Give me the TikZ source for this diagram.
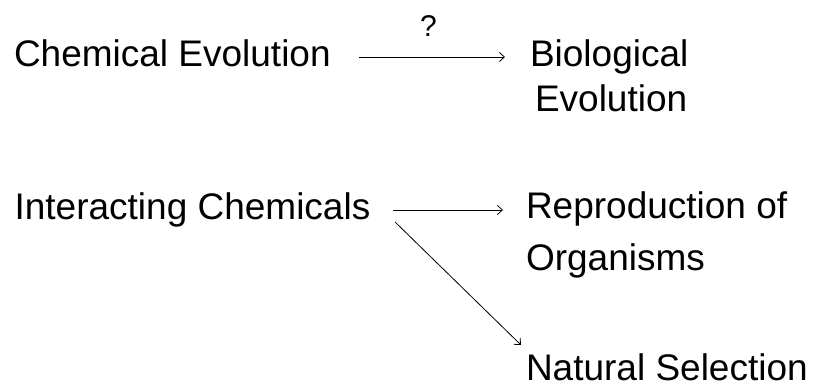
\documentclass[tikz,border=0pt]{standalone}
\usepackage{fontspec}
\setmainfont{Liberation Sans}
\usetikzlibrary{arrows.meta}
\begin{document}
\begin{tikzpicture}[x=1pt,y=-1pt,
  lbl/.style={inner sep=0pt,outer sep=0pt,anchor=base west,font=\fontsize{37}{44}\selectfont},
  qlbl/.style={inner sep=0pt,outer sep=0pt,anchor=base,font=\fontsize{30}{36}\selectfont},
  arr/.style={-{Straight Barb[length=5pt,width=9pt]},line width=0.8pt,black}]
\useasboundingbox (0,0) rectangle (816,387);
\node[lbl] (ce) at (14,67) {Chemical Evolution};
\node[lbl] (be1) at (530,67) {Biological};
\node[lbl] (be2) at (535,112) {Evolution};
\node[qlbl] (q) at (428.5,37) {?};
\node[lbl] (ic) at (14.6,220) {Interacting Chemicals};
\node[lbl] (ro1) at (526,219) {Reproduction of};
\node[lbl] (ro2) at (526,270) {Organisms};
\node[lbl] (ns) at (526,380) {Natural Selection};
\draw[arr] ([xshift=28.4pt,yshift=10pt]ce.base east) -- ([xshift=-25pt,yshift=10pt]be1.base west);
\draw[arr] ([xshift=22.7pt,yshift=10pt]ic.base east) -- ([xshift=-23pt,yshift=9pt]ro1.base west);
\draw[arr] ([xshift=24.7pt,yshift=-2pt]ic.base east) -- ([xshift=-5pt,yshift=35pt]ns.base west);
\end{tikzpicture}
\end{document}
